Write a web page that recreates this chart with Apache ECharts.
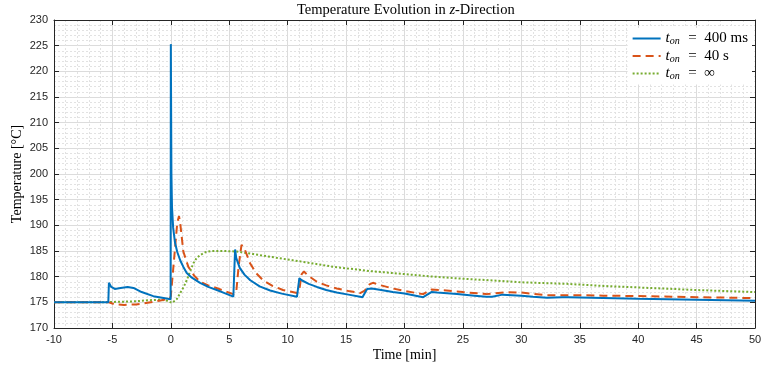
<!DOCTYPE html>
<html><head><meta charset="utf-8">
<script src="https://cdn.jsdelivr.net/npm/echarts@6/dist/echarts.min.js"></script>
<style>html,body{margin:0;padding:0;background:#fff}#c{width:762px;height:371px}</style>
</head><body><div id="c"></div>
<script>
const xTicks = [-10,-5,0,5,10,15,20,25,30,35,40,45,50];
const yTicks = [170,175,180,185,190,195,200,205,210,215,220,225,230];
const seriesNames = ['t_on = 400 ms','t_on = 40 s','t_on = ∞'];
const legendValues = ['400 ms','40 s','∞'];

const blueT = [-10,-5.35,-5.3,-5.1,-4.8,-4.3,-3.7,-3.2,-2.5,-1.5,-0.5,-0.02,0,0.05,0.1,0.2,0.36,0.55,0.8,1.05,1.36,1.8,2.5,3.2,3.93,4.6,5.35,5.45,5.5,5.6,5.9,6.3,6.8,7.6,8.5,9.5,10.8,10.95,11.0,11.2,11.8,12.5,13.3,14.2,15.2,16.2,16.4,16.8,17.2,18,19,20,21.6,22.3,22.8,24.5,26,27,27.5,28.4,30,31,32.2,33.5,34,36,38,40,45,50];
const blueV = [175,175,178.8,178.0,177.6,177.8,178.0,177.8,177.0,176.2,175.8,175.6,225.3,200,193.5,189.5,186.6,184.8,183.2,182.0,180.7,179.8,178.8,178.0,177.4,176.8,176.1,176.0,185.3,183.6,181.7,180.4,179.3,178.1,177.3,176.7,176.1,176.0,179.7,179.3,178.6,178.0,177.4,176.9,176.5,176.1,176.0,177.6,177.7,177.4,177.0,176.7,176.0,177.0,176.9,176.6,176.3,176.1,176.1,176.5,176.3,176.1,175.9,176.0,176.0,175.9,175.8,175.7,175.5,175.3];

const redT = [-10,-5.3,-4.8,-4,-3,-2,-1,-0.1,0,0.3,0.55,0.7,0.8,0.93,1.07,1.5,2.0,2.5,3.2,3.9,4.6,5.35,5.6,5.8,6.05,6.3,6.78,7.3,7.9,8.7,9.6,10.8,11.0,11.2,11.4,11.7,12.5,13.3,14.2,15.2,16.2,16.6,17.0,17.3,18,19,20,21.6,22.3,23.6,25,27,28.75,30,32.2,34.75,37,41,45,48,50];
const redV = [175,175,174.6,174.5,174.6,174.9,175.3,175.7,176.2,184,190.5,191.8,190.5,187.8,184.9,181.9,180.2,179.0,178.3,177.8,177.2,176.6,177,182,186.2,185.5,182.6,180.7,179.3,178.2,177.4,176.8,177.5,180.5,181.0,180.3,179.0,178.3,177.7,177.2,176.8,177.3,178.5,178.8,178.3,177.7,177.2,176.6,177.5,177.3,177.0,176.6,177.0,176.9,176.4,176.4,176.3,176.2,176.0,175.9,175.8];

const greenT = [-10,-6,-4.6,-3,-2,-1,-0.3,0.1,0.5,0.8,1.1,1.36,1.65,1.93,2.2,2.5,3.0,3.5,4.5,5.64,7.06,9,11,14,17,20,22.5,25,28,30,33.9,37,40,45,50];
const greenV = [175,175,175.1,175.2,175.4,175.5,175.3,174.9,175.6,176.8,178,179.3,181,182.6,183.6,184.2,184.8,185.0,185.0,184.9,184.4,183.7,183.0,181.9,181.1,180.5,180.0,179.6,179.2,178.9,178.6,178.2,177.9,177.4,177.0];

const zip = (a,b) => a.map((t,i)=>[t,b[i]]);
const axisColor = '#262626';
const serif = 'Liberation Serif';
const chart = echarts.init(document.getElementById('c'), null, {renderer:'canvas'});

const baseX = {type:'value', min:-10, max:50, interval:5,
  axisLine:{show:true, onZero:false, lineStyle:{color:axisColor,width:1}},
  axisTick:{show:true, inside:true, length:5, lineStyle:{color:axisColor}},
  minorTick:{show:false, splitNumber:5},
};
const baseY = {type:'value', min:170, max:230, interval:5,
  axisLine:{show:true, onZero:false, lineStyle:{color:axisColor,width:1}},
  axisTick:{show:true, inside:true, length:5, lineStyle:{color:axisColor}},
  minorTick:{show:false, splitNumber:5},
};

chart.setOption({
  animation:false,
  backgroundColor:'#fff',
  title:{text:'{a|Temperature Evolution in }{i|z}{a|-Direction}', left:292, top:-2,
    textStyle:{fontWeight:'normal',rich:{a:{fontFamily:serif,fontSize:14.5,fontWeight:'normal',color:'#000'},i:{fontFamily:serif,fontStyle:'italic',fontWeight:'normal',fontSize:14.5,color:'#000'}}}},
  grid:{left:54, right:7, top:20, bottom:43, outerBoundsMode:'none', containLabel:false},
  legend:{right:10, top:28, orient:'vertical', itemWidth:28, itemHeight:10, itemGap:2,
    backgroundColor:'#fff', padding:[3,4,3,4],
    itemStyle:{opacity:0},
    data:seriesNames,
    formatter:(n)=>{const i=seriesNames.indexOf(n); return '{i|t}{s|on}{a|\u2002=\u2002'+legendValues[i]+'}';},
    textStyle:{rich:{
      i:{fontFamily:serif,fontStyle:'italic',fontSize:15,color:'#000'},
      s:{fontFamily:serif,fontStyle:'italic',fontSize:10,color:'#000',verticalAlign:'bottom',padding:[6,1,0,0]},
      a:{fontFamily:serif,fontSize:15,color:'#000'}}}},
  xAxis:[
    Object.assign({}, baseX, {position:'bottom',
      name:'Time [min]', nameLocation:'middle', nameGap:20, nameMoveOverlap:false,
      nameTextStyle:{fontFamily:serif,fontSize:14,color:'#000'},
      axisLabel:{fontFamily:'Liberation Sans',fontSize:11,color:axisColor,margin:6,formatter:(v)=>String(v)},
      splitLine:{show:true,lineStyle:{color:'#dcdcdc',width:1}},
      minorSplitLine:{show:true,lineStyle:{color:'#e2e2e2',width:1,type:[2,2]}}}),
    Object.assign({}, baseX, {position:'top', axisLabel:{show:false}, splitLine:{show:false}})
  ],
  yAxis:[
    Object.assign({}, baseY, {position:'left',
      name:'Temperature [°C]', nameLocation:'middle', nameGap:30, nameMoveOverlap:false,
      nameTextStyle:{fontFamily:serif,fontSize:14,color:'#000'},
      axisLabel:{fontFamily:'Liberation Sans',fontSize:11,color:axisColor,margin:6},
      splitLine:{show:true,lineStyle:{color:'#dcdcdc',width:1}},
      minorSplitLine:{show:true,lineStyle:{color:'#e2e2e2',width:1,type:[2,2]}}}),
    Object.assign({}, baseY, {position:'right', axisLabel:{show:false}, splitLine:{show:false}})
  ],
  series:[
    {name:seriesNames[0], type:'line', data:zip(blueT,blueV), showSymbol:false, symbol:'none', smooth:false,
      lineStyle:{color:'#0072BD', width:2}, itemStyle:{color:'#0072BD'}, z:4},
    {name:seriesNames[1], type:'line', data:zip(redT,redV), showSymbol:false, symbol:'none',
      lineStyle:{color:'#D95319', width:2, type:[8,5]}, itemStyle:{color:'#D95319'}, z:3},
    {name:seriesNames[2], type:'line', data:zip(greenT,greenV), showSymbol:false, symbol:'none',
      lineStyle:{color:'#77AC30', width:2, type:[2,2]}, itemStyle:{color:'#77AC30'}, z:2}
  ]
});
</script></body></html>
